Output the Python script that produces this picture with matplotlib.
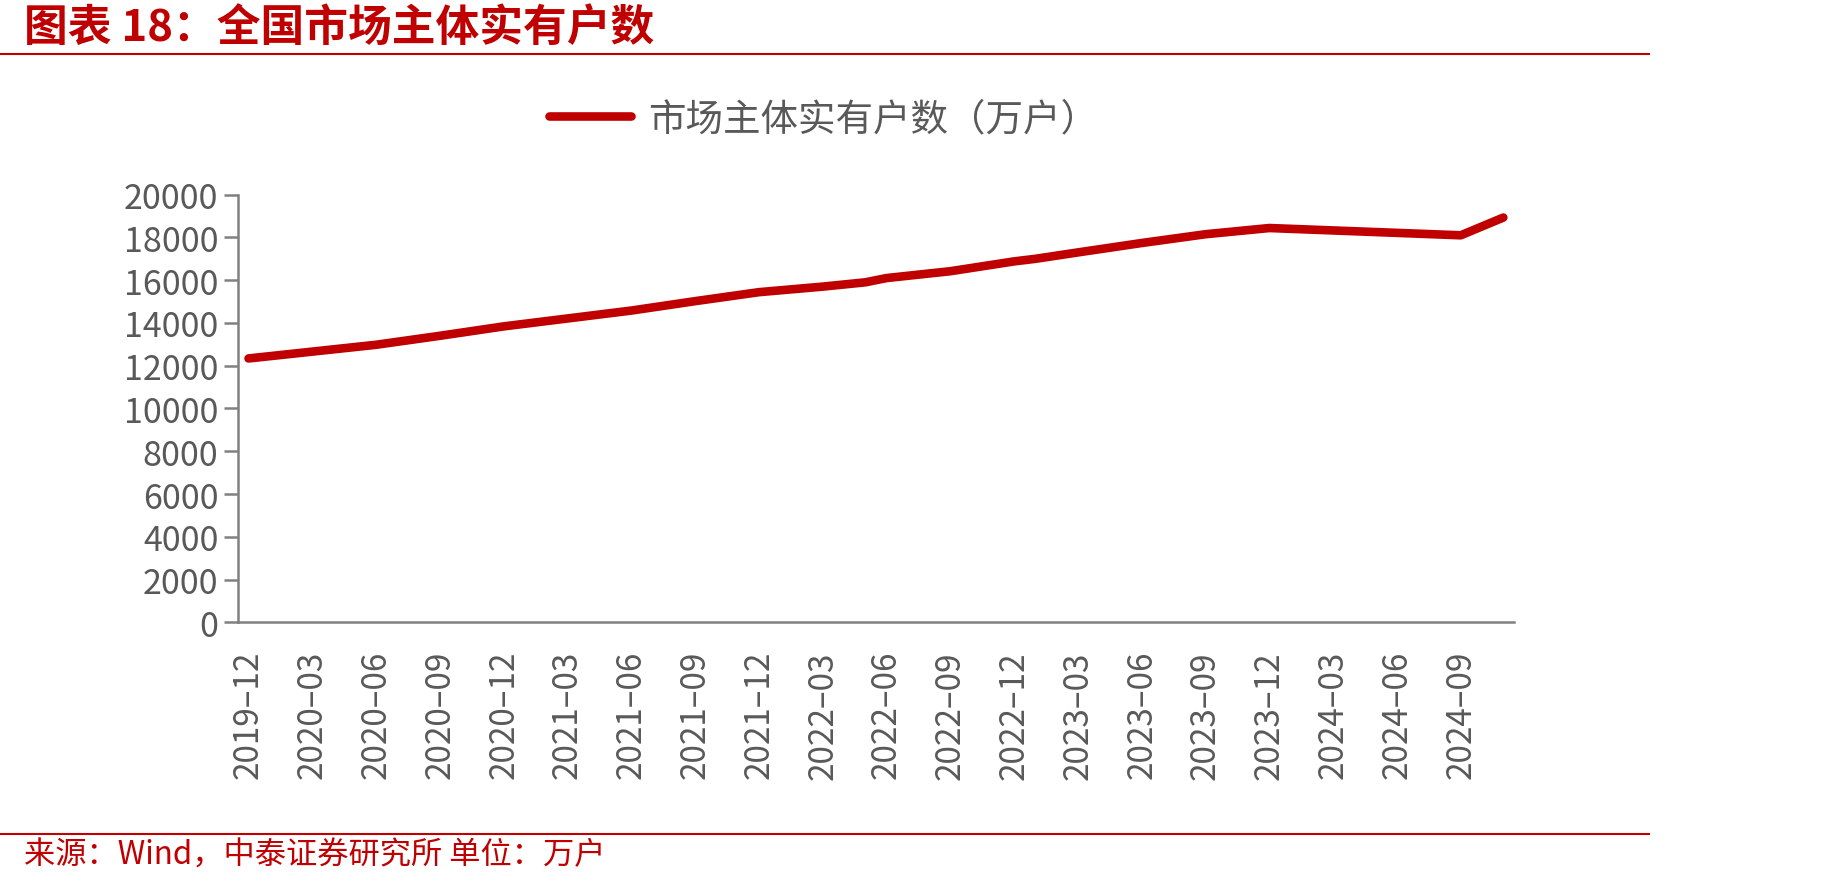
import numpy as np
import pandas as pd
import matplotlib
matplotlib.use('Agg')
import matplotlib.pyplot as plt

plt.rcParams['font.family'] = ['Noto Sans CJK SC', 'DejaVu Sans']

# 全部月份（类目轴）
months = [p.strftime('%Y–%m') for p in pd.period_range('2019-12', '2024-11', freq='M')]

# 有数据的月份及数值（万户）
data_months = ['2019–12', '2020–03', '2020–06', '2020–09', '2020–12', '2021–03',
               '2021–06', '2021–09', '2021–12', '2022–03', '2022–05', '2022–06',
               '2022–09', '2022–12', '2023–01', '2023–03', '2023–06', '2023–09',
               '2023–12', '2024–09', '2024–11']
values = [12340, 12660, 12980, 13400, 13840, 14210,
          14580, 15020, 15440, 15700, 15900, 16100,
          16420, 16880, 17000, 17300, 17740, 18150,
          18440, 18100, 18930]

yticks = np.arange(0, 20001, 2000)
red = '#C00000'
gray = '#808080'
txt = '#595959'

fig = plt.figure(figsize=(18.3, 8.87), dpi=100)
ax = fig.add_axes([0.130, 0.2973, 0.8273 - 0.130, 0.7794 - 0.2973])

x = [months.index(m) for m in data_months]
ax.plot(x, values, color=red, linewidth=6.2, solid_capstyle='round',
        solid_joinstyle='round', label='市场主体实有户数（万户）')

ax.set_xlim(-0.5, len(months) - 0.5)
ax.set_ylim(0, 20000)
ax.set_yticks(yticks)
ax.set_yticklabels([str(v) for v in yticks], fontsize=24.5, color=txt)
ax.set_xticks(range(0, len(months), 3))
ax.set_xticklabels(months[::3], rotation=90, fontsize=24, color=txt)

for s in ['top', 'right']:
    ax.spines[s].set_visible(False)
for s in ['left', 'bottom']:
    ax.spines[s].set_color(gray)
    ax.spines[s].set_linewidth(1.8)
ax.tick_params(axis='y', length=10, width=1.8, color=gray, pad=4)
ax.tick_params(axis='x', length=0, pad=20)

fig.legend(loc='center', bbox_to_anchor=(0.4500, 0.8647), frameon=False,
           fontsize=27, handlelength=2.2, handletextpad=0.45, labelcolor=txt)

# 标题与页脚
fig.text(0.013, 0.968, '图表 18：全国市场主体实有户数', fontsize=31.5, color=red,
         fontweight='bold', va='center', ha='left')
fig.add_artist(plt.Line2D([0, 0.901], [0.938, 0.938], color=red, linewidth=1.5))
fig.add_artist(plt.Line2D([0, 0.901], [0.059, 0.059], color=red, linewidth=1.5))
fig.text(0.013, 0.035, '来源：Wind，中泰证券研究所 单位：万户', fontsize=22.5, color=red,
         va='center', ha='left')

plt.savefig('out.png', dpi=100)
